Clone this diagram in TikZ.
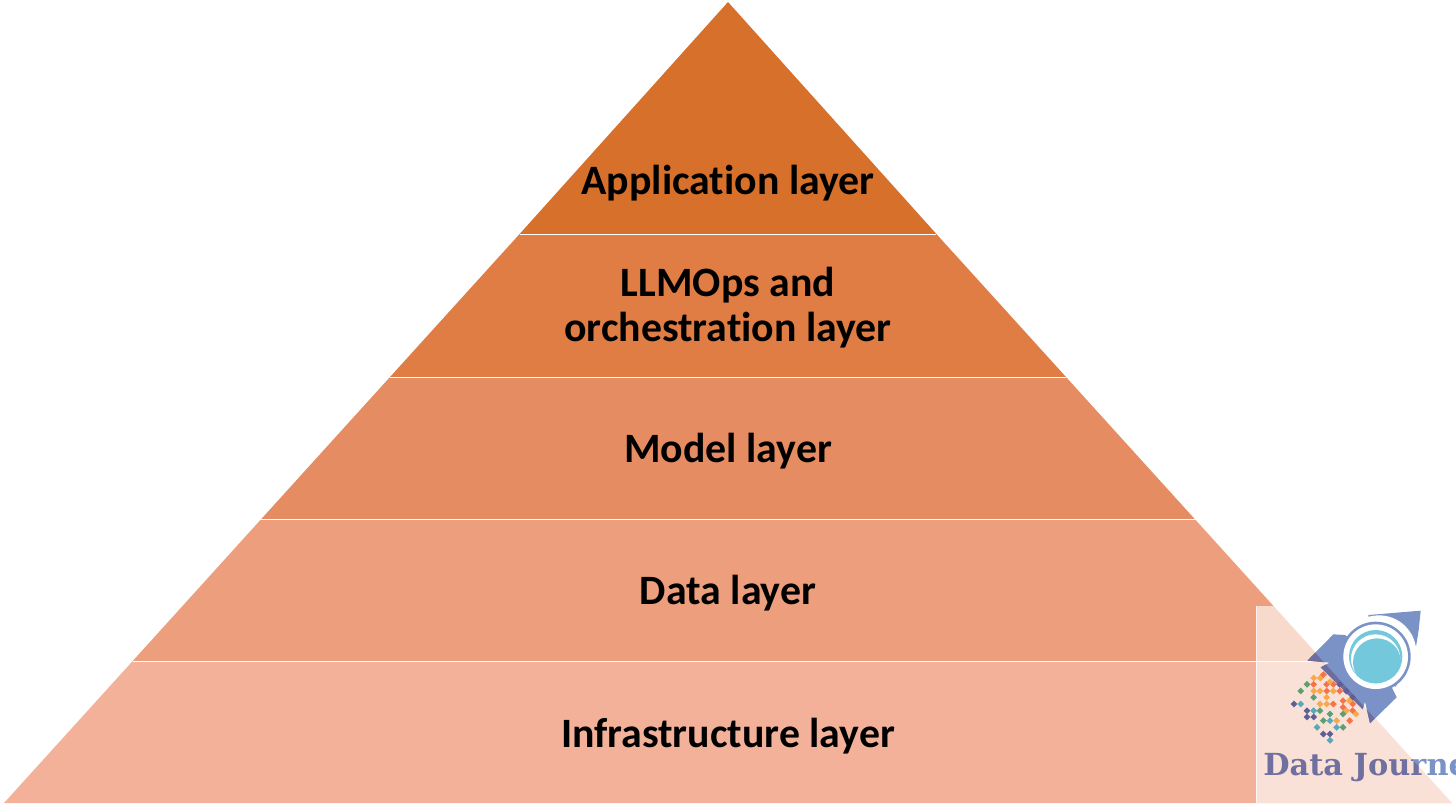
\documentclass[tikz,border=0pt]{standalone}
\usepackage{fontspec}
\setmainfont[Ligatures=NoCommon]{Carlito}
\newfontfamily\logofont{DejaVu Serif}
\definecolor{layerA}{HTML}{D6702B}
\definecolor{layerB}{HTML}{DF7D45}
\definecolor{layerC}{HTML}{E68C62}
\definecolor{layerD}{HTML}{ED9E7C}
\definecolor{layerE}{HTML}{F3B19A}
\definecolor{rocketblue}{HTML}{7A92C5}
\definecolor{rocketdark}{HTML}{6E6E9E}
\definecolor{teal1}{HTML}{74C8DC}
\definecolor{dotO}{HTML}{F7A84A}
\definecolor{dotR}{HTML}{F5734A}
\definecolor{dotG}{HTML}{5BA070}
\definecolor{dotP}{HTML}{5F5F96}
\definecolor{dotT}{HTML}{5AA8B8}
\tikzset{
  layertext/.style={font=\fontsize{23.8}{25.6}\selectfont\bfseries, text=black, align=center, inner sep=0pt},
  sepline/.style={draw=white, line width=0.9pt},
  logotext/.style={anchor=west,inner sep=0pt,font=\logofont\fontsize{17.3}{20}\selectfont\bfseries},
}
\newcommand{\rocketbody}{(232,212) -- (310,133) -- (345,135) -- (440,200) -- (500,322) -- (420,400) -- (405,335) -- (398,358) -- (272,232) -- (298,218) -- cycle}
\newcommand{\rocketfin}{(415,75) -- (572,62) -- (566,120) -- (558,170) -- (530,235) -- (497,290) -- (440,260) -- cycle}
\newcommand{\logodot}[3]{\fill[#3] ($(1230,590)+(#1/3,#2/3)$) ++(-3.4,0) -- ++(3.4,-3.4) -- ++(3.4,3.4) -- ++(-3.4,3.4) -- cycle;}
\usetikzlibrary{calc}
\begin{document}
\begin{tikzpicture}[x=0.02cm,y=-0.02cm]
\useasboundingbox (0,0) rectangle (1456,806);
\fill[white] (0,0) rectangle (1456,806);
% layers
\fill[layerA] (728,2) -- (936.4,234) -- (519.6,234) -- cycle;
\fill[layerB] (519.6,234) -- (936.4,234) -- (1066,377) -- (390,377) -- cycle;
\fill[layerC] (390,377) -- (1066,377) -- (1194.7,519) -- (261.3,519) -- cycle;
\fill[layerD] (261.3,519) -- (1194.7,519) -- (1323.3,661) -- (132.7,661) -- cycle;
\fill[layerE] (132.7,661) -- (1323.3,661) -- (1452,803) -- (4,803) -- cycle;
% translucent logo backing
\fill[white,opacity=0.62] (1256,606) rectangle (1456,803);
\draw[white,opacity=0.7,line width=0.5pt] (1256,606) -- (1256,803);
% separators
\draw[sepline] (519.6,234.6) -- (936.4,234.6);
\draw[sepline] (390,377.6) -- (1066,377.6);
\draw[sepline] (261.3,519.6) -- (1194.7,519.6);
\draw[sepline] (132.7,661.6) -- (1329,661.6);
% labels
\node[layertext] (app) at (728,183.5) {Application layer};
\node[layertext] (llm) at (728,307.5) {LLMOps and\\orchestration layer};
\node[layertext] (model) at (728,451.5) {Model layer};
\node[layertext] (data) at (728,593.5) {Data layer};
\node[layertext] (infra) at (728,736) {Infrastructure layer};
% rocket
\begin{scope}[shift={(1230,590)},x=0.00667cm,y=-0.00667cm]
  \fill[rocketblue] \rocketbody;
  \fill[rocketblue] \rocketfin;
  \begin{scope}
    \clip (85,0) -- (665,640) -- (-10,640) -- (-10,0) -- cycle;
    \fill[rocketdark] \rocketbody;
  \end{scope}
  \begin{scope}
    \clip (400,30) -- (620,30) -- (620,245) -- (530,245) -- (437,200) -- cycle;
    \fill[white] (447,188) circle (112);
  \end{scope}
  \fill[rocketblue] (437,200) circle (105);
  \fill[white] (437,200) circle (97);
  \fill[teal1] (437,200) circle (80);
  \begin{scope}
    \clip (437,200) circle (80);
    \fill[white] (437,207) circle (74);
    \fill[teal1] (441,217) circle (72);
  \end{scope}
\end{scope}
% dots
\foreach \px/\py/\c in {
  251/264/dotO,271/264/dotO,280/254/dotR,
  231/283/dotG,251/283/dotR,290/283/dotR,310/283/dotR,329/283/dotP,300/275/dotO,
  212/303/dotG,251/303/dotO,270/303/dotO,290/303/dotR,310/303/dotO,329/303/dotR,349/303/dotP,
  251/322/dotG,290/322/dotO,368/322/dotP,
  192/342/dotP,212/342/dotT,270/342/dotO,290/342/dotO,310/342/dotR,339/332/dotR,368/342/dotR,358/332/dotO,
  231/362/dotP,251/362/dotT,270/362/dotG,339/352/dotR,349/362/dotO,
  231/381/dotP,251/381/dotP,300/372/dotG,339/372/dotG,368/362/dotR,378/372/dotO,
  280/392/dotG,300/392/dotT,320/392/dotO,359/392/dotR,
  261/412/dotT,320/412/dotT,339/412/dotG,
  280/432/dotP,300/432/dotP,300/451/dotT}{
  \logodot{\px}{\py}{\c}
}
% logo text, darker over the pyramid
\begin{scope}
  \clip (1256,740) rectangle (1456,803);
  \begin{scope}
    \clip (1256,606) -- (1258,590) -- (1452,803) -- (1256,803) -- cycle;
    \node[logotext,text=dotP!90!white] (logo) at (1263,768) {Data Journe};
  \end{scope}
  \begin{scope}
    \clip (1258,590) -- (1452,803) -- (1456,803) -- (1456,590) -- cycle;
    \node[logotext,text=rocketblue] (logob) at (1263,768) {Data Journe};
  \end{scope}
\end{scope}
\end{tikzpicture}
\end{document}
